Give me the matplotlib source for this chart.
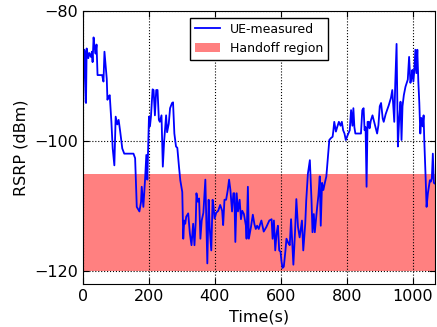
import matplotlib
matplotlib.use("Agg")
import matplotlib.pyplot as plt

# UE-measured RSRP trace
time_s = [1, 4, 7, 9, 11, 16, 19, 24, 27, 29,
          32, 35, 38, 41, 44, 58, 62, 65, 72, 74,
          78, 81, 86, 90, 95, 99, 104, 108, 113, 119,
          125, 153, 158, 163, 171, 176, 178, 183, 188, 192,
          195, 197, 200, 203, 206, 211, 214, 218, 222, 226,
          230, 233, 238, 242, 246, 252, 255, 260, 264, 270,
          273, 277, 282, 286, 291, 295, 301, 304, 307, 310,
          313, 319, 324, 329, 334, 338, 342, 344, 348, 352,
          356, 360, 365, 371, 377, 381, 384, 389, 393, 396,
          399, 404, 410, 416, 422, 425, 429, 434, 439, 443,
          447, 452, 456, 459, 462, 466, 470, 475, 479, 483,
          488, 494, 496, 500, 503, 509, 515, 520, 524, 528,
          533, 537, 541, 548, 556, 565, 572, 575, 579, 583,
          587, 591, 595, 599, 602, 605, 609, 614, 617, 623,
          627, 631, 635, 638, 643, 647, 652, 657, 664, 668,
          674, 677, 682, 688, 693, 696, 700, 703, 710, 714,
          718, 721, 725, 729, 733, 738, 743, 747, 752, 757,
          759, 762, 767, 771, 776, 781, 785, 789, 793, 797,
          803, 809, 813, 817, 820, 823, 826, 833, 838, 843,
          847, 851, 854, 857, 860, 863, 867, 869, 873, 878,
          882, 887, 892, 896, 900, 904, 909, 912, 918, 927,
          934, 938, 944, 947, 951, 955, 959, 963, 966, 969,
          973, 978, 985, 989, 993, 996, 999, 1002, 1005, 1008,
          1011, 1014, 1017, 1020, 1023, 1026, 1030, 1033, 1035, 1039,
          1042, 1046, 1052, 1055, 1058, 1061, 1064, 1067]
rsrp_dbm = [-93.9, -85.9, -87.0, -94.1, -85.7, -87.2, -86.4, -87.0, -86.2, -87.8,
            -84.0, -85.5, -86.5, -85.1, -89.8, -89.8, -90.8, -86.2, -90.4, -93.6,
            -93.1, -92.9, -97.0, -101.1, -103.7, -96.2, -97.4, -96.7, -98.6, -101.1,
            -101.9, -101.9, -102.6, -110.1, -110.8, -109.3, -107.0, -110.1, -106.0, -102.1,
            -105.9, -102.0, -96.2, -97.7, -96.2, -92.0, -92.1, -96.0, -92.1, -92.1,
            -96.7, -97.0, -96.0, -103.9, -100.0, -96.0, -98.6, -97.3, -94.9, -94.1,
            -94.0, -98.8, -100.8, -101.0, -103.9, -106.0, -107.8, -115.0, -112.2, -112.7,
            -111.6, -111.1, -114.2, -116.0, -112.7, -116.0, -112.2, -108.0, -109.3, -108.8,
            -115.0, -112.2, -111.0, -105.9, -118.8, -109.0, -113.2, -116.8, -109.0, -110.1,
            -111.9, -111.0, -110.7, -109.8, -110.7, -112.9, -109.0, -109.0, -107.5, -105.9,
            -107.5, -110.8, -108.0, -108.0, -115.5, -108.0, -110.8, -109.0, -112.0, -110.7,
            -111.2, -113.0, -115.0, -107.0, -115.0, -113.3, -111.3, -112.8, -113.5, -113.0,
            -113.5, -112.8, -112.2, -113.9, -113.2, -112.2, -112.0, -115.0, -112.2, -116.8,
            -114.2, -113.0, -116.8, -117.0, -118.5, -119.5, -119.3, -116.8, -115.0, -115.7,
            -116.0, -112.0, -116.0, -119.0, -114.0, -108.9, -113.2, -114.8, -112.2, -116.8,
            -112.7, -109.1, -105.0, -102.9, -109.1, -114.0, -111.2, -114.0, -110.2, -108.3,
            -105.4, -113.0, -106.4, -107.5, -106.5, -105.4, -102.4, -99.8, -99.5, -99.3,
            -98.5, -97.0, -98.5, -97.8, -97.0, -97.6, -97.0, -98.3, -98.8, -99.8,
            -99.0, -98.3, -95.2, -97.6, -94.9, -97.8, -98.8, -98.8, -98.8, -98.8,
            -95.2, -94.9, -98.3, -97.8, -107.0, -97.0, -97.0, -98.0, -96.8, -96.0,
            -96.8, -97.8, -98.8, -97.5, -94.6, -94.1, -96.5, -97.0, -95.8, -94.5,
            -93.3, -92.1, -97.0, -91.1, -85.0, -100.8, -96.5, -93.9, -99.8, -94.6,
            -92.9, -91.6, -90.5, -87.0, -91.0, -90.3, -89.0, -90.8, -89.0, -85.9,
            -89.5, -85.9, -90.8, -94.1, -98.8, -96.4, -97.7, -96.0, -99.8, -105.4,
            -110.1, -108.0, -106.0, -106.2, -105.7, -101.9, -106.4, -106.5]

handoff_low, handoff_high = -120, -105
x_ticks = [0, 200, 400, 600, 800, 1000]
y_ticks = [-120, -100, -80]

fig = plt.figure(figsize=(4.37, 3.27), dpi=100)
ax = fig.add_axes([0.19, 0.131, 0.805, 0.834])
ax.plot(time_s, rsrp_dbm, color="blue", linewidth=1.3, label="UE-measured")
ax.axhspan(handoff_low, handoff_high, color="#ff8080", linewidth=0, label="Handoff region")
ax.set_xlim(0, 1067)
ax.set_ylim(-122, -80)
ax.set_xticks(x_ticks)
ax.set_yticks(y_ticks)
ax.tick_params(direction="in", labelsize=11.5, length=4, top=True, right=True)
ax.grid(True, color="black", linestyle=":", linewidth=0.8)
ax.set_xlabel("Time(s)", fontsize=11.5)
ax.set_ylabel("RSRP (dBm)", fontsize=11.5)
leg = ax.legend(loc="upper center", fontsize=9, fancybox=False, framealpha=1,
                borderaxespad=0.5)
leg.get_frame().set_edgecolor("black")
fig.savefig("out.png", dpi=100)
plt.close(fig)
